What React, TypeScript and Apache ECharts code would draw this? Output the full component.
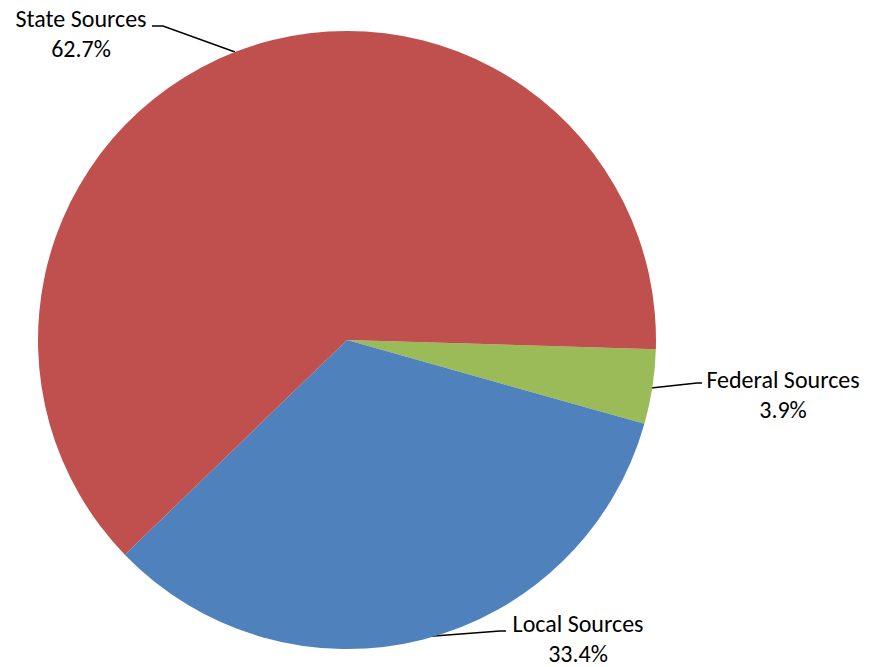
import React, { useEffect, useRef } from "react";
import * as echarts from "echarts";

const categories = ["Federal Sources", "Local Sources", "State Sources"];
const shares = [3.9, 33.4, 62.7];
const colors = ["#9BBB59", "#4F81BD", "#C0504D"];

// label layout (positions only)
const labelPos = [
  { x: 783, y: 394, line: [[651, 388], [697, 383], [702, 383]] },
  { x: 578, y: 638, line: [[421, 637], [500, 631], [506, 631]] },
  { x: 81, y: 33, line: [[235, 52], [163, 26], [152, 26]] },
];

export default function App() {
  const ref = useRef<HTMLDivElement>(null);
  useEffect(() => {
    const chart = echarts.init(ref.current!, null, { renderer: "svg" });
    chart.setOption({
      animation: false,
      series: [
        {
          type: "pie",
          center: [347, 340],
          radius: 309,
          startAngle: -1.7,
          clockwise: true,
          data: categories.map((c, i) => ({
            name: c,
            value: shares[i],
            itemStyle: { color: colors[i] },
          })),
          label: {
            show: true,
            formatter: (p: any) => `${p.name}\n${p.value.toFixed(1)}%`,
            fontFamily: "Carlito, Calibri, 'Liberation Sans', Arial, sans-serif",
            fontSize: 24,
            fontWeight: "normal",
            lineHeight: 30,
            color: "#000",
            align: "center",
          },
          labelLine: {
            show: true,
            lineStyle: { color: "#000", width: 1.5 },
          },
          labelLayout: (params: any) => {
            const lp = labelPos[params.dataIndex];
            return {
              x: lp.x,
              y: lp.y,
              align: "center",
              verticalAlign: "middle",
              labelLinePoints: lp.line,
            };
          },
          emphasis: { disabled: true },
        },
      ],
    });
    return () => chart.dispose();
  }, []);
  return (
    <div
      ref={ref}
      style={{ position: "absolute", left: 0, top: 0, width: 869, height: 667, background: "#fff" }}
    />
  );
}
